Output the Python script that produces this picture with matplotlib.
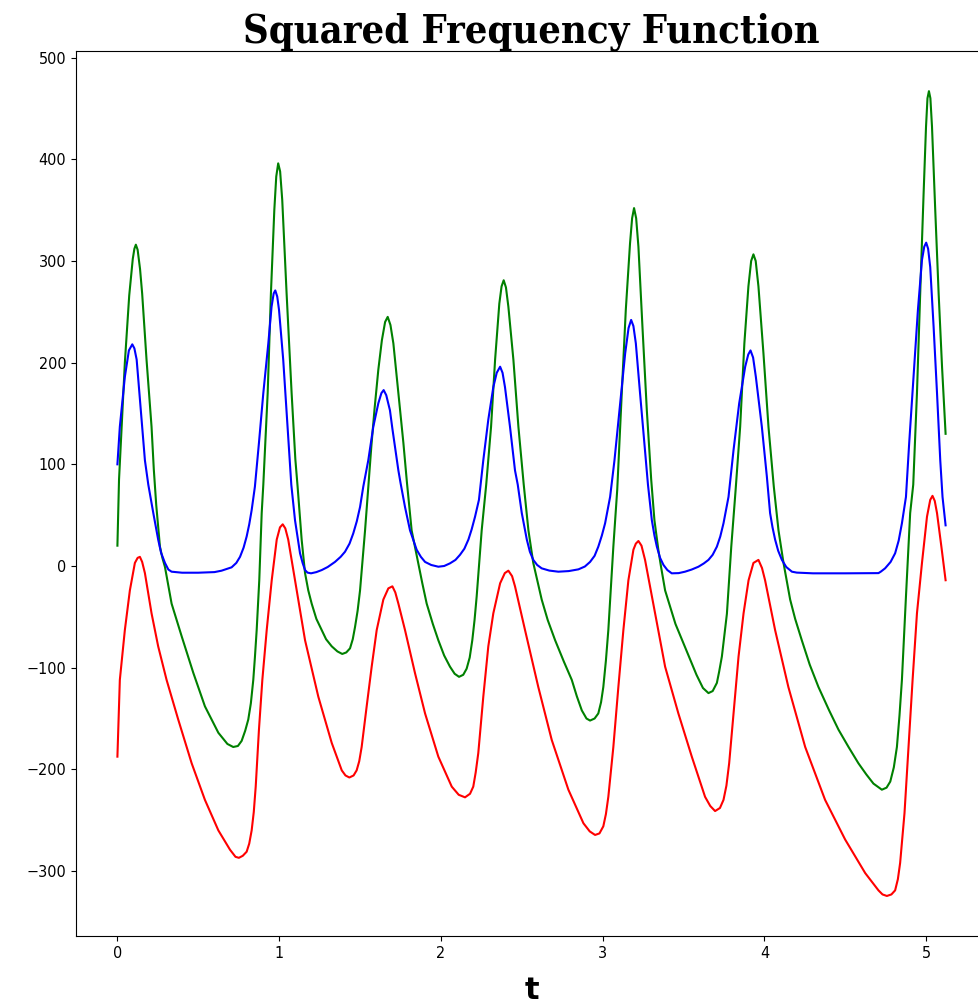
import matplotlib
matplotlib.use("Agg")
import matplotlib.pyplot as plt

# ---- data ----
t_green = [0.000, 0.010, 0.026, 0.046, 0.073, 0.095, 0.105, 0.114, 0.125, 0.140, 0.153, 0.180,
           0.211, 0.225, 0.240, 0.250, 0.263, 0.278, 0.294, 0.310, 0.335, 0.397, 0.469, 0.541,
           0.624, 0.680, 0.716, 0.745, 0.768, 0.790, 0.809, 0.825, 0.840, 0.850, 0.861, 0.877,
           0.892, 0.902, 0.929, 0.949, 0.970, 0.982, 0.994, 1.006, 1.019, 1.046, 1.077, 1.100,
           1.114, 1.139, 1.160, 1.180, 1.201, 1.230, 1.263, 1.290, 1.325, 1.360, 1.390, 1.415,
           1.438, 1.455, 1.469, 1.485, 1.500, 1.531, 1.552, 1.570, 1.590, 1.613, 1.635, 1.655,
           1.671, 1.688, 1.706, 1.737, 1.768, 1.790, 1.819, 1.860, 1.885, 1.912, 1.950, 1.984,
           2.020, 2.056, 2.085, 2.112, 2.138, 2.159, 2.178, 2.194, 2.208, 2.221, 2.252, 2.280,
           2.310, 2.335, 2.361, 2.375, 2.388, 2.402, 2.417, 2.448, 2.479, 2.512, 2.541, 2.571,
           2.623, 2.660, 2.706, 2.760, 2.809, 2.840, 2.871, 2.900, 2.922, 2.950, 2.973, 2.990,
           3.004, 3.020, 3.035, 3.066, 3.090, 3.118, 3.143, 3.169, 3.182, 3.194, 3.207, 3.221,
           3.246, 3.273, 3.300, 3.320, 3.345, 3.360, 3.386, 3.450, 3.510, 3.580, 3.620, 3.654,
           3.680, 3.706, 3.720, 3.737, 3.768, 3.795, 3.822, 3.850, 3.876, 3.901, 3.918, 3.932,
           3.946, 3.963, 3.994, 4.025, 4.058, 4.087, 4.118, 4.159, 4.190, 4.231, 4.280, 4.334,
           4.400, 4.458, 4.520, 4.581, 4.630, 4.674, 4.726, 4.755, 4.778, 4.800, 4.819, 4.835,
           4.850, 4.875, 4.901, 4.920, 4.943, 4.963, 4.984, 4.999, 5.008, 5.017, 5.026, 5.036,
           5.056, 5.077, 5.098, 5.120]
v_green = [20, 85, 137, 200, 266, 302, 312, 316, 311, 292, 268, 203,
           137, 95, 60, 42, 19, 8, -1, -15, -37, -69, -105, -138,
           -164, -175, -178, -177, -172, -162, -151, -135, -112, -90, -63, -14,
           52, 80, 170, 268, 350, 383, 396, 388, 360, 268, 170, 105,
           78, 26, -7, -24, -37, -52, -63, -72, -79, -84, -86.5, -85,
           -81, -72, -60, -44, -24, 35, 80, 118, 155, 193, 222, 240,
           245, 237, 219, 170, 121, 82, 35, 3, -17, -37, -57, -73,
           -88, -99, -106, -109, -107, -101, -90, -73, -53, -30, 35, 80,
           137, 203, 258, 275, 281, 274, 255, 203, 137, 80, 35, 3,
           -33, -53, -73, -94, -112, -128, -142, -150, -152, -150, -145, -134,
           -119, -93, -63, 19, 75, 170, 252, 317, 342, 352, 342, 314,
           235, 153, 85, 45, 15, 0, -24, -57, -80, -107, -120, -125,
           -123, -115, -104, -89, -47, 19, 75, 137, 219, 275, 300, 306.5,
           300, 275, 209, 137, 78, 35, 3, -33, -52, -73, -97, -119,
           -142, -161, -178, -194, -205, -214, -220, -218, -212, -198, -178, -147,
           -112, -30, 52, 80, 170, 268, 366, 432, 460, 467, 460, 432,
           350, 268, 196, 130]

t_blue = [0.000, 0.015, 0.046, 0.071, 0.092, 0.105, 0.119, 0.145, 0.170, 0.191, 0.222, 0.252,
          0.270, 0.294, 0.315, 0.335, 0.400, 0.500, 0.600, 0.644, 0.706, 0.735, 0.758, 0.780,
          0.799, 0.815, 0.830, 0.850, 0.875, 0.902, 0.933, 0.953, 0.966, 0.976, 0.988, 0.999,
          1.025, 1.052, 1.075, 1.098, 1.129, 1.145, 1.160, 1.175, 1.197, 1.230, 1.263, 1.300,
          1.345, 1.380, 1.407, 1.435, 1.458, 1.480, 1.500, 1.520, 1.551, 1.582, 1.613, 1.632,
          1.646, 1.662, 1.685, 1.700, 1.716, 1.737, 1.750, 1.778, 1.809, 1.850, 1.876, 1.902,
          1.940, 1.984, 2.020, 2.056, 2.090, 2.118, 2.145, 2.170, 2.190, 2.211, 2.235, 2.262,
          2.293, 2.324, 2.345, 2.366, 2.381, 2.396, 2.427, 2.458, 2.475, 2.500, 2.531, 2.550,
          2.571, 2.595, 2.623, 2.670, 2.726, 2.790, 2.850, 2.890, 2.922, 2.950, 2.973, 2.995,
          3.015, 3.046, 3.073, 3.108, 3.139, 3.160, 3.176, 3.190, 3.205, 3.231, 3.258, 3.280,
          3.304, 3.320, 3.335, 3.355, 3.376, 3.400, 3.427, 3.470, 3.509, 3.550, 3.592, 3.625,
          3.654, 3.680, 3.706, 3.727, 3.747, 3.778, 3.809, 3.844, 3.881, 3.900, 3.914, 3.930,
          3.947, 3.984, 4.015, 4.035, 4.050, 4.066, 4.085, 4.108, 4.135, 4.170, 4.200, 4.300,
          4.500, 4.705, 4.720, 4.746, 4.780, 4.808, 4.830, 4.850, 4.875, 4.895, 4.922, 4.949,
          4.974, 4.988, 5.000, 5.012, 5.025, 5.046, 5.067, 5.087, 5.101, 5.120]
v_blue = [100, 137, 186, 212, 218, 214, 203, 153, 104, 80, 52, 26,
          13, 3, -3.5, -5.6, -6.6, -6.6, -6, -4.6, -1.3, 3, 9, 18,
          29, 41, 55, 78, 121, 170, 219, 255, 268, 271, 265, 252,
          203, 137, 80, 45, 12.5, 3, -4, -6.5, -7.2, -6, -4, -1,
          4, 9, 14, 22, 32, 44, 58, 78, 104, 137, 160, 170,
          173, 168, 153, 135, 117, 94, 82, 58, 35, 16, 9, 4,
          1, -0.7, 0, 2.6, 6, 11, 17, 26, 36, 48.5, 65, 104,
          144, 176, 190, 196, 190, 176, 137, 94, 80, 52, 26, 14,
          6, 1, -2.3, -4.5, -5.6, -5, -3.3, -0.5, 4, 10, 19, 30,
          42, 68, 104, 160, 209, 234, 242, 236, 219, 170, 121, 80,
          45, 30, 19, 8, 1, -4, -7.2, -7, -5.6, -3.5, -0.7, 2.5,
          6, 11, 19, 29, 42, 68, 114, 160, 196, 208, 212, 205,
          186, 137, 88, 52, 38, 26, 15, 6, -1, -5.6, -6.5, -7.2,
          -7.2, -7, -5.5, -2.3, 4, 12.5, 25, 42, 68, 121, 186, 252,
          301, 314, 318, 312, 294, 235, 170, 104, 68, 40]

t_red = [0.000, 0.015, 0.046, 0.077, 0.108, 0.125, 0.139, 0.153, 0.170, 0.211, 0.252, 0.304,
         0.376, 0.459, 0.541, 0.624, 0.696, 0.730, 0.751, 0.775, 0.799, 0.815, 0.830, 0.843,
         0.855, 0.875, 0.896, 0.923, 0.954, 0.985, 1.005, 1.022, 1.038, 1.056, 1.098, 1.160,
         1.242, 1.325, 1.387, 1.410, 1.434, 1.460, 1.479, 1.495, 1.510, 1.541, 1.572, 1.603,
         1.644, 1.675, 1.700, 1.718, 1.737, 1.778, 1.840, 1.902, 1.984, 2.067, 2.110, 2.149,
         2.180, 2.200, 2.215, 2.231, 2.262, 2.293, 2.324, 2.366, 2.395, 2.417, 2.440, 2.458,
         2.520, 2.602, 2.685, 2.788, 2.881, 2.920, 2.953, 2.980, 3.004, 3.020, 3.035, 3.066,
         3.097, 3.128, 3.159, 3.190, 3.205, 3.221, 3.240, 3.262, 3.324, 3.386, 3.468, 3.551,
         3.633, 3.665, 3.695, 3.725, 3.747, 3.765, 3.782, 3.809, 3.840, 3.871, 3.902, 3.932,
         3.963, 3.985, 4.004, 4.066, 4.148, 4.252, 4.375, 4.499, 4.623, 4.705, 4.730, 4.757,
         4.785, 4.808, 4.825, 4.839, 4.866, 4.891, 4.916, 4.943, 4.974, 5.005, 5.025, 5.039,
         5.053, 5.067, 5.094, 5.120]
v_red = [-187.5, -112, -63, -24, 3, 8, 9, 4, -7, -46.5, -79, -112,
         -151, -194, -230, -260, -279, -286, -287, -285, -281, -273, -260, -242,
         -217, -161, -112, -63, -14, 26, 38, 41, 37, 26, -14, -73,
         -128.5, -174, -201, -206, -208, -206, -201, -192, -178, -138, -99, -63,
         -33, -22, -20, -26, -37, -63, -105.5, -145, -187.5, -217, -225, -227.5,
         -224, -217, -203, -184, -128.5, -79, -46.5, -17, -7, -4.6, -10, -20,
         -63, -119, -171, -220, -253, -261, -264.5, -263, -256, -244, -227, -178,
         -119, -63, -14, 16, 22, 24.6, 20, 6, -46.5, -99, -145, -187.5,
         -227, -236, -241, -238, -230, -216, -194, -145, -89, -46.5, -14, 3,
         6, -2, -14, -63, -119, -178, -230, -269, -302, -319, -323, -324.5,
         -323, -319, -308, -292, -243, -178, -112, -46.5, 3, 48.5, 65, 69,
         64, 52, 19, -14]

title_text = "Squared Frequency Function"
xlabel_text = "t"

W, H = 979, 1008
fig = plt.figure(figsize=(W / 100, H / 100), dpi=100)
ax = fig.add_axes([76 / W, (H - 936.2) / H, (987 - 76) / W, 885.3 / H])

ax.plot(t_green, v_green, color="green", lw=1.5)
ax.plot(t_blue, v_blue, color="blue", lw=1.5)
ax.plot(t_red, v_red, color="red", lw=1.5)

ax.tick_params(labelsize=11.5)
for lab in ax.get_xticklabels() + ax.get_yticklabels():
    lab.set_fontstretch("condensed")
ax.set_title(title_text, family="DejaVu Serif", fontweight="bold", fontsize=28.5,
             fontstretch="condensed", pad=3)
ax.set_xlabel(xlabel_text, fontweight="bold", fontsize=22, labelpad=11)

fig.savefig("out.png", dpi=100)
